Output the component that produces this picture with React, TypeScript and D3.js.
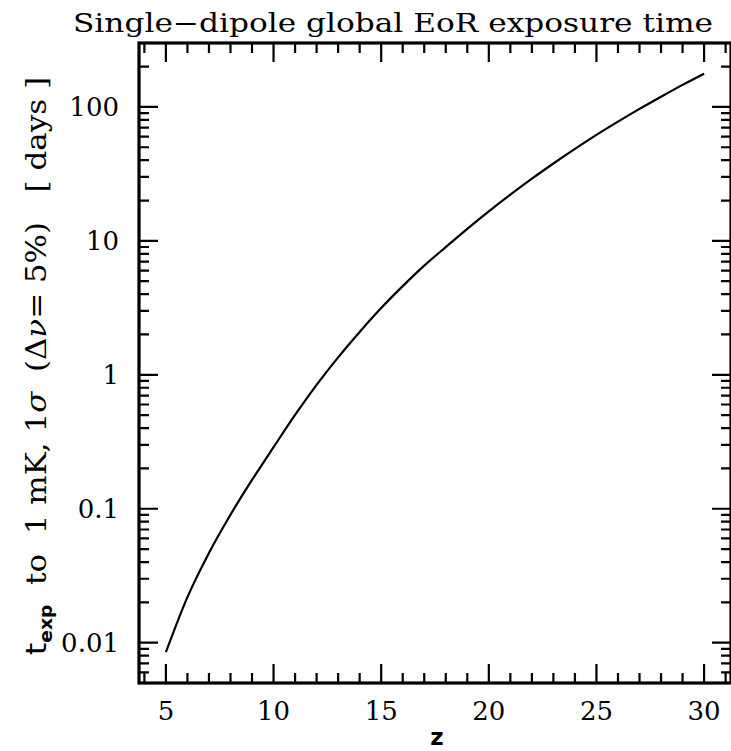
import React, { useEffect, useRef } from 'react';
import * as d3 from 'd3';

// exposure time (days) for 1 mK at 1 sigma
const redshift = [5, 6, 7, 8, 9, 10, 11, 12, 13, 14, 15, 16, 17, 18, 19, 20, 21, 22, 23, 24, 25, 26, 27, 28, 29, 30];
const exposureDays = [
  0.0085, 0.0219, 0.0468, 0.0902, 0.164, 0.288, 0.501, 0.841, 1.35, 2.09, 3.15, 4.59, 6.53,
  8.99, 12.3, 16.6, 22.1, 29.1, 37.8, 48.6, 61.8, 77.6, 96.6, 119, 146, 177,
];

const xTickValues = [5, 10, 15, 20, 25, 30];
const yTickValues = [0.01, 0.1, 1, 10, 100];
const yTickLabels = ['0.01', '0.1', '1', '10', '100'];

const xDomain = [3.75, 31.25];
const yDomain = [0.005, 300];

const W = 731;
const H = 751;
const frame = { left: 139, top: 43, right: 731, bottom: 683 };
const serif = '"DejaVu Serif", serif';

export default function App() {
  const svgRef = useRef<SVGSVGElement>(null);

  useEffect(() => {
    if (!svgRef.current) return;
    const svg = d3.select(svgRef.current);
    svg.selectAll('*').remove();

    const x = d3.scaleLinear().domain(xDomain).range([frame.left, frame.right]);
    const y = d3.scaleLog().domain(yDomain).range([frame.bottom, frame.top]);

    const majorLen = 19;
    const minorLen = 10;

    // ticks on all four sides
    const xTicks = d3.range(4, 32);
    const yTicks = y.ticks();
    const isDecade = (v: number) => {
      const lg = Math.log10(v);
      return Math.abs(lg - Math.round(lg)) < 1e-6;
    };

    let d = '';
    xTicks.forEach(v => {
      const px = x(v);
      const len = v % 5 === 0 ? majorLen : minorLen;
      d += `M${px},${frame.bottom}V${frame.bottom - len}`;
      d += `M${px},${frame.top}V${frame.top + len}`;
    });
    yTicks.forEach(v => {
      const py = y(v);
      const len = isDecade(v) ? majorLen : minorLen;
      d += `M${frame.left},${py}H${frame.left + len}`;
      d += `M${frame.right},${py}H${frame.right - len}`;
    });

    svg.append('path')
      .attr('d', d)
      .attr('fill', 'none')
      .attr('stroke', '#000')
      .attr('stroke-width', 2.2);

    // frame
    svg.append('rect')
      .attr('x', frame.left)
      .attr('y', frame.top)
      .attr('width', frame.right - frame.left)
      .attr('height', frame.bottom - frame.top)
      .attr('fill', 'none')
      .attr('stroke', '#000')
      .attr('stroke-width', 3.2);

    // curve
    const line = d3.line<number>()
      .x((_, i) => x(redshift[i]))
      .y(v => y(v))
      .curve(d3.curveMonotoneX);

    svg.append('path')
      .datum(exposureDays)
      .attr('d', line)
      .attr('fill', 'none')
      .attr('stroke', '#000')
      .attr('stroke-width', 2.2);

    // tick labels
    yTickValues.forEach((v, i) => {
      svg.append('text')
        .attr('x', 119)
        .attr('y', y(v) + 9)
        .attr('text-anchor', 'end')
        .attr('font-family', serif)
        .attr('font-size', 26)
        .text(yTickLabels[i]);
    });

    xTickValues.forEach(v => {
      svg.append('text')
        .attr('x', x(v))
        .attr('y', 720)
        .attr('text-anchor', 'middle')
        .attr('font-family', serif)
        .attr('font-size', 26)
        .text(String(v));
    });

    // title
    svg.append('text')
      .attr('x', 393)
      .attr('y', 32)
      .attr('text-anchor', 'middle')
      .attr('font-family', serif)
      .attr('font-size', 26)
      .attr('textLength', 640)
      .attr('lengthAdjust', 'spacingAndGlyphs')
      .text('Single\u2212dipole global EoR exposure time');

    // x label
    svg.append('text')
      .attr('x', 437)
      .attr('y', 745)
      .attr('text-anchor', 'middle')
      .attr('font-family', '"DejaVu Sans", sans-serif')
      .attr('font-weight', 'bold')
      .attr('font-size', 23)
      .text('z');

    // y label
    const yl = svg.append('text')
      .attr('transform', 'translate(46,366) rotate(-90)')
      .attr('text-anchor', 'middle')
      .attr('font-family', serif)
      .attr('font-size', 28)
      .attr('textLength', 578)
      .attr('lengthAdjust', 'spacingAndGlyphs')
      .style('white-space', 'pre');

    yl.append('tspan').attr('font-family', '"DejaVu Sans", sans-serif').text('t');
    yl.append('tspan')
      .attr('font-family', '"DejaVu Sans", sans-serif')
      .attr('font-weight', 'bold')
      .attr('font-size', 17)
      .attr('dy', 6)
      .text('exp');
    yl.append('tspan').attr('dy', -6).text('  to  1 mK, 1');
    yl.append('tspan').attr('font-style', 'italic').text('\u03c3');
    yl.append('tspan').text('  (\u0394');
    yl.append('tspan').attr('font-style', 'italic').text('\u03bd');
    yl.append('tspan').text('= 5%)   [ days ]');
  }, []);

  return (
    <svg
      ref={svgRef}
      width={W}
      height={H}
      style={{ position: 'absolute', left: 0, top: 0, background: '#fff' }}
    />
  );
}
